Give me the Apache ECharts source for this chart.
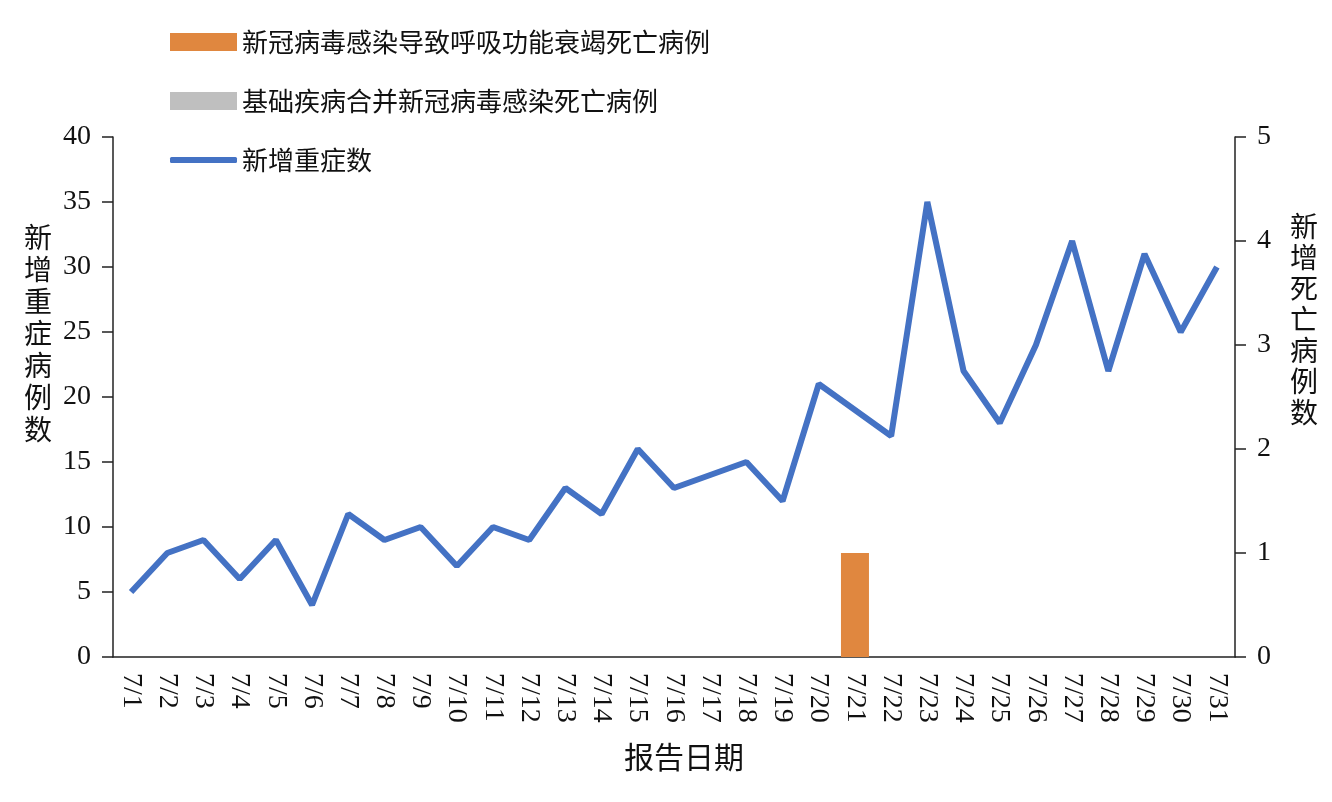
<!DOCTYPE html>
<html>
<head>
<meta charset="utf-8">
<script src="https://cdn.jsdelivr.net/npm/echarts@6/dist/echarts.min.js"></script>
<style>
html, body { margin: 0; padding: 0; background: #fff; }
#chart { width: 1332px; height: 802px; }
</style>
</head>
<body>
<div id="chart"></div>
<script>
// 报告日期
const days = [];
for (let d = 1; d <= 31; d++) days.push("7/" + d);

const severe_new = [5, 8, 9, 6, 9, 4, 11, 9, 10, 7, 10, 9, 13, 11, 16, 13, 14, 15, 12, 21,
    19, 17, 35, 22, 18, 24, 32, 22, 31, 25, 30];
const death_resp = [0, 0, 0, 0, 0, 0, 0, 0, 0, 0, 0, 0, 0, 0, 0, 0, 0, 0, 0, 0,
    1, 0, 0, 0, 0, 0, 0, 0, 0, 0, 0];
const death_basic = [0, 0, 0, 0, 0, 0, 0, 0, 0, 0, 0, 0, 0, 0, 0, 0, 0, 0, 0, 0,
    0, 0, 0, 0, 0, 0, 0, 0, 0, 0, 0];

const names = ["新冠病毒感染导致呼吸功能衰竭死亡病例", "基础疾病合并新冠病毒感染死亡病例", "新增重症数"];

const serif = "'Liberation Serif', 'Times New Roman', serif";
const cjk = "'Noto Sans CJK SC', sans-serif";
const axisCol = "#222";

// stack the characters vertically; blank tail lines lift the name above the axis middle
let vert = (s, pad) => s.split("").join("\n") + "\n ".repeat(pad);

let legendText = { fontFamily: cjk, fontSize: 26, color: "#111", lineHeight: 28 };

let chart = echarts.init(document.getElementById("chart"));
chart.setOption({
    animation: false,
    backgroundColor: "#fff",
    legend: [
        {
            orient: "vertical",
            left: 165,
            top: 23,
            itemGap: 31,
            itemWidth: 67,
            itemHeight: 18,
            icon: "rect",
            textStyle: legendText,
            data: [names[0], names[1]]
        },
        {
            orient: "vertical",
            left: 165,
            top: 141,
            itemWidth: 67,
            itemHeight: 6,
            icon: "roundRect",
            textStyle: legendText,
            data: [names[2]]
        }
    ],
    grid: { left: 113, right: 97, top: 137, bottom: 145 },
    xAxis: {
        type: "category",
        data: days,
        name: "报告日期",
        nameLocation: "middle",
        nameGap: 85,
        nameTextStyle: { fontFamily: cjk, fontSize: 30, color: "#111", padding: [0, 0, 0, 20] },
        axisLine: { lineStyle: { color: axisCol, width: 1.5 } },
        axisTick: { length: 10, lineStyle: { color: axisCol, width: 1.5 } },
        axisLabel: { rotate: -90, fontFamily: serif, fontSize: 28, color: "#111", margin: 16, interval: 0 }
    },
    yAxis: [
        {
            type: "value", min: 0, max: 40, interval: 5,
            name: vert("新增重症病例数", 4),
            nameLocation: "middle",
            nameRotate: 0,
            nameGap: 61,
            nameTextStyle: { fontFamily: cjk, fontSize: 28, color: "#111", lineHeight: 32 },
            axisLine: { show: true, lineStyle: { color: axisCol, width: 1.5 } },
            axisTick: { show: true, length: 11, lineStyle: { color: axisCol, width: 1.5 } },
            axisLabel: { fontFamily: serif, fontSize: 28, color: "#111", margin: 22 },
            splitLine: { show: false }
        },
        {
            type: "value", min: 0, max: 5, interval: 1,
            position: "right",
            name: vert("新增死亡病例数", 5),
            nameLocation: "middle",
            nameRotate: 0,
            nameGap: 55,
            nameTextStyle: { fontFamily: cjk, fontSize: 28, color: "#111", lineHeight: 31 },
            axisLine: { show: true, lineStyle: { color: axisCol, width: 1.5 } },
            axisTick: { show: true, length: 11, lineStyle: { color: axisCol, width: 1.5 } },
            axisLabel: { fontFamily: serif, fontSize: 28, color: "#111", margin: 22 },
            splitLine: { show: false }
        }
    ],
    series: [
        {
            name: names[0], type: "bar", yAxisIndex: 1,
            data: death_resp, barWidth: 28, barGap: "-100%",
            itemStyle: { color: "#E0873F" }
        },
        {
            name: names[1], type: "bar", yAxisIndex: 1,
            data: death_basic, barWidth: 28,
            itemStyle: { color: "#BFBFBF" }
        },
        {
            name: names[2], type: "line", yAxisIndex: 0,
            data: severe_new, symbol: "none",
            lineStyle: { color: "#4472C4", width: 6 },
            itemStyle: { color: "#4472C4" }
        }
    ]
});
</script>
</body>
</html>
